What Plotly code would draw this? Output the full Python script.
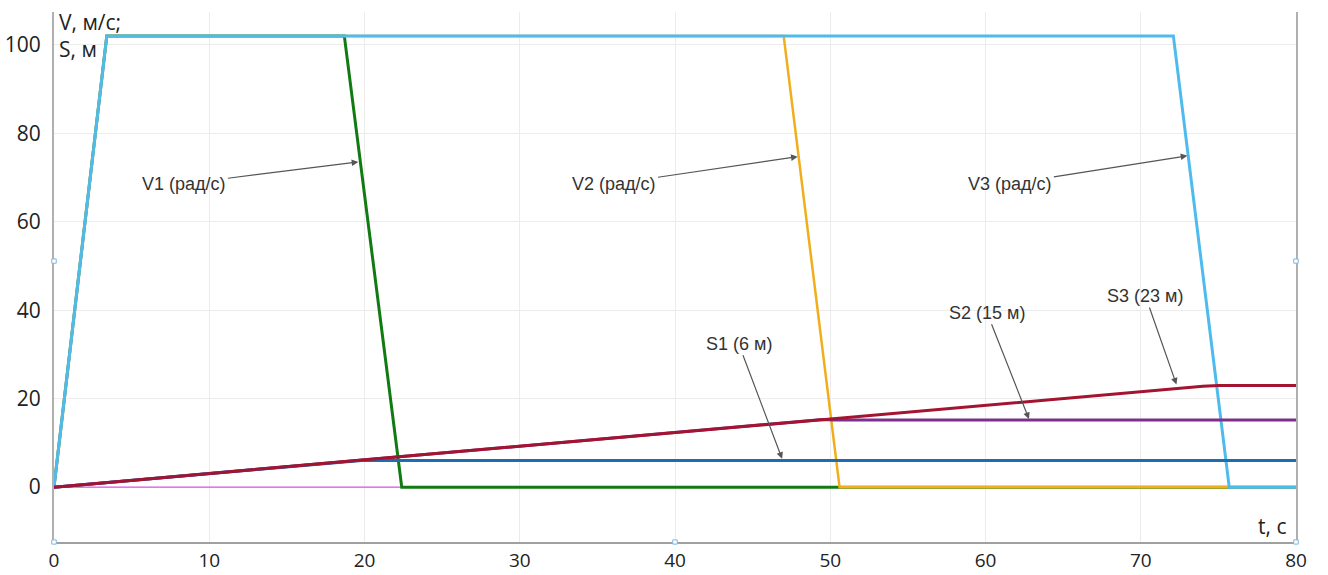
import plotly.graph_objects as go

# ---- data ----
t_v1 = [0, 3.4, 18.7, 22.4, 80]
v1 = [0, 102, 102, 0, 0]
t_v2 = [0, 3.4, 47.0, 50.6, 80]
v2 = [0, 102, 102, 0, 0]
t_v3 = [0, 3.4, 72.1, 75.7, 80]
v3 = [0, 102, 102, 0, 0]

t_s1 = [0, 10, 20, 22.3, 80]
s1 = [0, 3.1, 6.1, 6.0, 6.0]
t_s2 = [0, 10, 20, 30, 40, 49.5, 50.2, 80]
s2 = [0, 3.1, 6.2, 9.3, 12.4, 15.3, 15.2, 15.2]
t_s3 = [0, 10, 20, 30, 40, 50, 60, 70, 72, 73, 74, 75, 76, 80]
s3 = [0, 3.1, 6.2, 9.3, 12.4, 15.5, 18.6, 21.6, 22.2, 22.5, 22.8, 22.95, 23.0, 23.0]

t_m = [0, 22.4]
m = [0, 0]

x_ticks = [0, 10, 20, 30, 40, 50, 60, 70, 80]
y_ticks = [0, 20, 40, 60, 80, 100]

# annotations: (text, text_x, text_y, head_x, head_y)
notes = [
    ("V1 (рад/с)", 8.4, 68.6, 19.6, 73.5),
    ("V2 (рад/с)", 36.1, 68.6, 47.9, 74.7),
    ("V3 (рад/с)", 61.6, 68.6, 73.0, 74.9),
    ("S1 (6 м)", 44.1, 32.4, 46.9, 6.4),
    ("S2 (15 м)", 60.1, 39.4, 62.8, 15.4),
    ("S3 (23 м)", 70.3, 43.2, 72.3, 23.2),
]

fig = go.Figure()
fig.add_trace(go.Scatter(x=t_m, y=m, mode="lines", line=dict(color="#e055e0", width=1.2)))
fig.add_trace(go.Scatter(x=t_v1, y=v1, mode="lines", line=dict(color="#127a12", width=3)))
fig.add_trace(go.Scatter(x=t_v2, y=v2, mode="lines", line=dict(color="#f0ad1c", width=2.5)))
fig.add_trace(go.Scatter(x=t_v3, y=v3, mode="lines", line=dict(color="#4fbbec", width=3)))
fig.add_trace(go.Scatter(x=t_s2, y=s2, mode="lines", line=dict(color="#7e2f8e", width=3)))
fig.add_trace(go.Scatter(x=t_s1, y=s1, mode="lines", line=dict(color="#1f6cb0", width=3)))
fig.add_trace(go.Scatter(x=t_s3, y=s3, mode="lines", line=dict(color="#a2142f", width=3)))

for txt, tx, ty, hx, hy in notes:
    fig.add_annotation(x=hx, y=hy, ax=tx, ay=ty, axref="x", ayref="y",
                       xref="x", yref="y", text=txt, showarrow=True,
                       arrowhead=2, arrowsize=1.1, arrowwidth=1.2, arrowcolor="#555555",
                       font=dict(family="Liberation Sans, Arial", size=18, color="#333333"),
                       standoff=0, startstandoff=0)

font_ax = dict(family="Open Sans, Noto Sans", size=21, color="#222222")
font_xt = dict(family="Open Sans, Noto Sans", size=19, color="#222222")
fig.add_annotation(xref="paper", yref="paper", x=0, y=1, xanchor="left", yanchor="top",
                   xshift=3, yshift=6, text="V, м/с;", showarrow=False, font=font_ax)
fig.add_annotation(xref="paper", yref="paper", x=0, y=1, xanchor="left", yanchor="top",
                   xshift=3, yshift=-21, text="S, м", showarrow=False, font=font_ax)
fig.add_annotation(xref="paper", yref="paper", x=1, y=0, xanchor="right", yanchor="bottom",
                   xshift=-8, yshift=0, text="t, с", showarrow=False, font=font_ax)

# selection handles (decorative)
for px, py in [(0, 0), (0.5, 0), (1, 0), (0, 0.53), (1, 0.53)]:
    fig.add_shape(type="rect", xref="paper", yref="paper",
                  x0=px - 0.0018, x1=px + 0.0018, y0=py - 0.004, y1=py + 0.004,
                  line=dict(color="#7fb8dd", width=1), fillcolor="white")

fig.update_layout(
    width=1328, height=575,
    margin=dict(l=54, r=32, t=12, b=33, autoexpand=False),
    paper_bgcolor="white", plot_bgcolor="white",
    showlegend=False,
    font=font_ax,
)
fig.update_xaxes(range=[0, 80], tickvals=x_ticks, showgrid=True, gridcolor="#ececec",
                 zeroline=False, showline=True, linecolor="#a0a0a0", linewidth=2,
                 ticks="", tickfont=font_xt, automargin=False)
fig.update_yaxes(range=[-12.4, 107.4], tickvals=y_ticks, showgrid=True, gridcolor="#ececec",
                 zeroline=False, showline=True, linecolor="#b0b0b0", linewidth=2, mirror=True,
                 ticks="outside", ticklen=7, tickcolor="white", tickfont=font_ax,
                 automargin=False)

fig.write_html("out.html")
